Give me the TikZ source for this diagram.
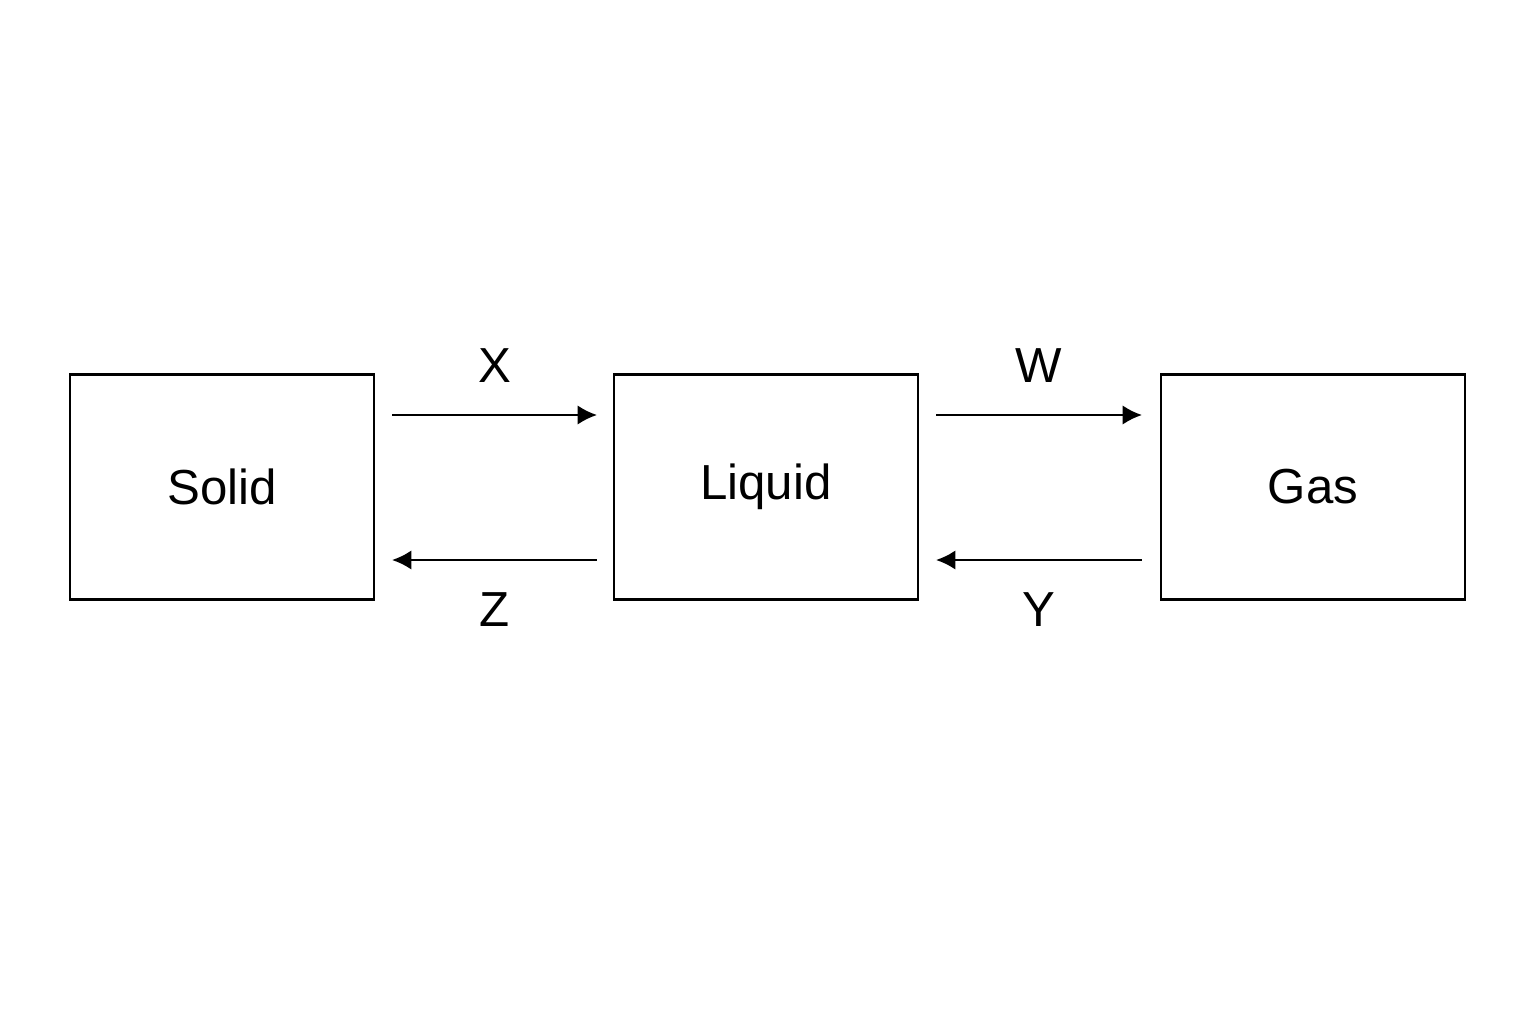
\documentclass[tikz,border=0pt]{standalone}
\usepackage{fontspec}
\setmainfont{Liberation Sans}
\usetikzlibrary{arrows.meta}
\tikzset{
    phase/.style={draw=black, line width=0.6pt, minimum width=3.04cm, minimum height=2.25cm,
        font=\fontsize{14}{17}\selectfont},
    change/.style={line width=0.6pt, -{Latex[length=5.5pt,width=5.5pt]}},
    tag/.style={font=\fontsize{14}{17}\selectfont}
}
\begin{document}
\begin{tikzpicture}
        \useasboundingbox (0, 0) rectangle (15.36, 10.24);
        % the three phases
        \node[phase] (solid) at (2.22, 5.37) {Solid};
        \node[phase] (liquid) at (7.66, 5.37) {Liquid};
        \node[phase] (gas) at (13.13, 5.37) {Gas};
        % forward changes
        \draw[change] ([xshift=0.17cm, yshift=0.72cm]solid.east) -- ([xshift=-0.16cm, yshift=0.72cm]liquid.west)
            node[tag, midway, above=0.2cm] {X};
        \draw[change] ([xshift=0.17cm, yshift=0.72cm]liquid.east) -- ([xshift=-0.18cm, yshift=0.72cm]gas.west)
            node[tag, midway, above=0.2cm] {W};
        % backward changes
        \draw[change] ([xshift=-0.16cm, yshift=-0.73cm]liquid.west) -- ([xshift=0.17cm, yshift=-0.73cm]solid.east)
            node[tag, midway, below=0.2cm] {Z};
        \draw[change] ([xshift=-0.18cm, yshift=-0.73cm]gas.west) -- ([xshift=0.17cm, yshift=-0.73cm]liquid.east)
            node[tag, midway, below=0.2cm] {Y};
    \end{tikzpicture}
\end{document}
